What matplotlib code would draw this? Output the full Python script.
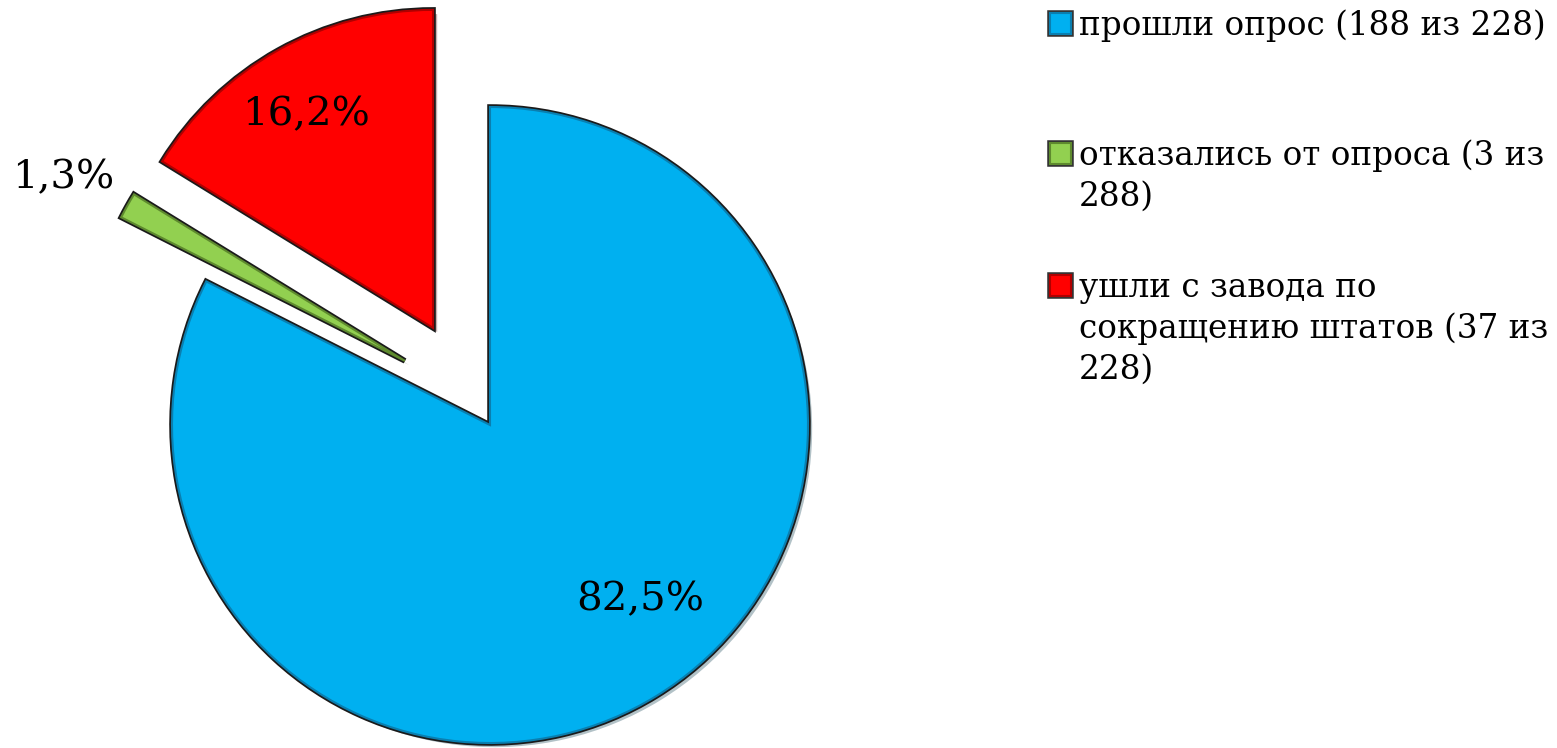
import numpy as np
import matplotlib
matplotlib.use("Agg")
import matplotlib.pyplot as plt
import matplotlib.patheffects as pe
from matplotlib.patches import Rectangle

# data
labels = ["прошли опрос (188 из 228)",
          "отказались от опроса (3 из\n288)",
          "ушли с завода по\nсокращению штатов (37 из\n228)"]
counts = [188, 3, 37]
colors = ["#00B0F0", "#92D050", "#FF0000"]
edge_colors = ["#0A7FB0", "#5E8A2E", "#B00000"]

# how far each slice is pulled out (in radii) and in which direction (deg)
explode_dist = [0.0, 0.335, 0.354]
explode_dir = [0.0, 143.0, 120.4]

# where the percent labels sit relative to each wedge centre (angle deg, distance in radii)
label_polar = [(-49.4, 0.725), (151.9, 1.22), (120.8, 0.78)]

plt.rcParams['font.family'] = ['DejaVu Serif']

W, H = 1557, 748
R = 318  # pie radius in px
CX, CY = 490, 425  # pie centre in px from top-left
fig = plt.figure(figsize=(W / 100, H / 100), dpi=100)
ax = fig.add_axes([0, 0, 1000 / W, 1])
wedges, _ = ax.pie(counts, colors=colors, startangle=90,
                   counterclock=False, radius=1.0,
                   wedgeprops=dict(linewidth=1.5))
ax.set_xlim(-CX / R, (1000 - CX) / R)
ax.set_ylim(-(H - CY) / R, CY / R)
ax.set_aspect('auto')
ax.axis('off')

for w, ec, d, a in zip(wedges, edge_colors, explode_dist, explode_dir):
    t = np.deg2rad(a)
    w.set_center((d * np.cos(t), d * np.sin(t)))
    w.set_edgecolor(ec)
    w.set_path_effects([pe.SimplePatchShadow(offset=(3, -3), alpha=0.3),
                        pe.Stroke(linewidth=4, foreground="#1a1a1a"), pe.Normal()])

total = sum(counts)
for w, c, (ang, dist) in zip(wedges, counts, label_polar):
    pct = 100.0 * c / total
    txt = f"{pct:.1f}%".replace(".", ",")
    cx, cy = w.center
    a = np.deg2rad(ang)
    ax.text(cx + dist * np.cos(a), cy + dist * np.sin(a), txt,
            ha="center", va="center", fontsize=29, color="black")

# legend drawn by hand so the marker sits on the first line
first_baselines = [35, 165, 297]
line_step = 41
for lab, col, ec, yb in zip(labels, colors, edge_colors, first_baselines):
    sq = Rectangle((1050 / W, 1 - (yb - 1) / H), 21 / W, 21 / H,
                   transform=fig.transFigure, facecolor=col,
                   edgecolor=ec, linewidth=1.5)
    sq.set_path_effects([pe.Stroke(linewidth=4, foreground="#333333"), pe.Normal()])
    fig.patches.append(sq)
    for i, line in enumerate(lab.split("\n")):
        fig.text(1079 / W, 1 - (yb + i * line_step) / H, line, ha="left",
                 va="baseline", fontsize=23.5, color="black")

fig.savefig("out.png", dpi=100)
